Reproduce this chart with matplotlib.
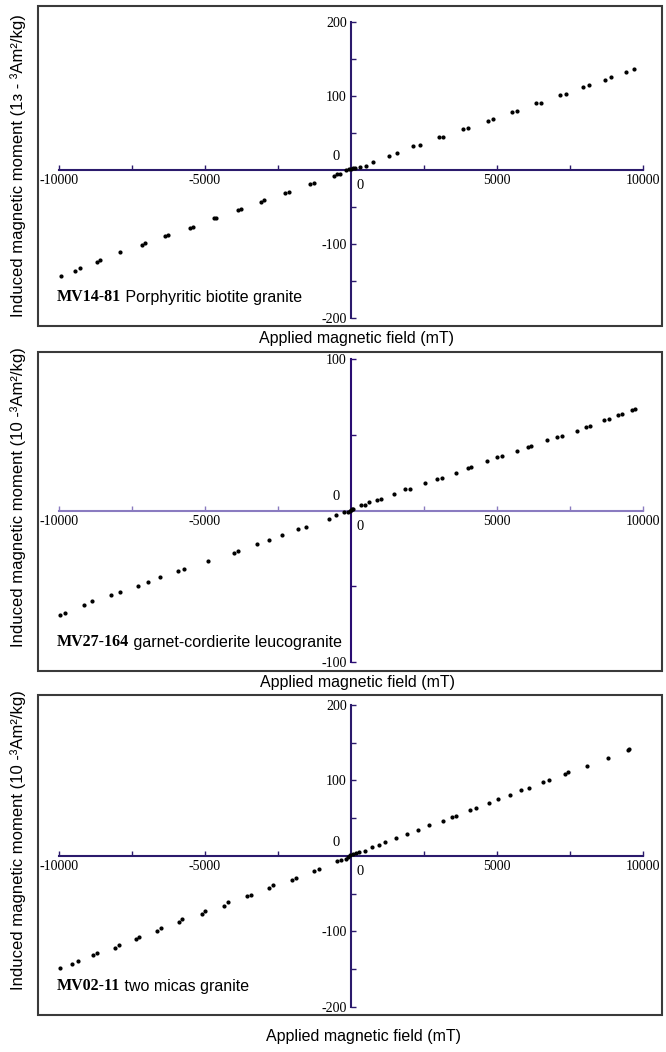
import matplotlib
matplotlib.use("Agg")
import matplotlib.pyplot as plt
from matplotlib.patches import Rectangle

# ---------------- data ----------------
# Panel 1: MV14-81
p1_field = [-9927, -9460, -9271, -8688, -8601, -7915, -7157, -7055, -6356, -6254,
            -5525, -5408, -4708, -4606, -3878, -3776, -3076, -2974, -2245, -2128,
            -1399, -1283, -569, -481, -379, -160, -58, 0, 58, 131,
            321, 525, 743, 1297, 1560, 2128, 2362, 3003, 3163, 3819,
            4023, 4679, 4869, 5525, 5700, 6327, 6516, 7157, 7347, 7959,
            8149, 8703, 8907, 9431, 9679]
p1_moment = [-143, -136, -132, -124, -121, -111, -101, -99, -89, -88,
             -78, -77, -65, -65, -54, -53, -43, -41, -31, -30,
             -19, -18, -8, -6, -5, -0.4, 1, 2, 3, 3,
             4.4, 6, 11, 19, 23, 32, 34, 44, 45, 55,
             57, 66, 69, 78, 80, 90, 91, 102, 103, 112,
             115, 122, 125, 133, 136]

# Panel 2: MV27-164
p2_field = [-9978, -9803, -9148, -8885, -8230, -7910, -7283, -6963, -6526, -5914,
            -5710, -4894, -4020, -3875, -3219, -2811, -2360, -1821, -1530, -757,
            -510, -233, -117, -44, 0, 29, 73, 350, 481, 612,
            874, 1020, 1486, 1850, 2010, 2535, 2957, 3103, 3584, 3991,
            4108, 4661, 4996, 5171, 5681, 6074, 6176, 6701, 7065, 7211,
            7735, 8041, 8201, 8653, 8842, 9133, 9279, 9614, 9716]
p2_moment = [-68.7, -67.4, -62.3, -59.9, -55.9, -53.7, -49.8, -47.1, -44.1, -39.9,
             -38.8, -33.3, -27.8, -26.4, -22.2, -19.4, -16.3, -12.3, -10.8, -5.3,
             -3.1, -0.9, -0.7, 0, 0.4, 0.9, 1.3, 3.5, 3.7, 5.5,
             6.8, 7.5, 11.2, 13.9, 14.5, 18.1, 20.7, 21.6, 24.9, 28,
             28.6, 32.4, 35, 35.7, 39.2, 41.6, 42.7, 46.3, 48.7, 48.9,
             52.6, 55.1, 55.9, 59.7, 60.4, 62.8, 63.9, 66.3, 67]

# Panel 3: MV02-11
p3_field = [-9949, -9555, -9365, -8826, -8709, -8096, -7950, -7367, -7250, -6637,
            -6506, -5893, -5777, -5106, -4989, -4333, -4201, -3559, -3428, -2801,
            -2655, -2013, -1882, -1255, -1080, -467, -350, -175, -88, -29,
            58, 160, 277, 496, 715, 963, 1167, 1546, 1926, 2290,
            2670, 3151, 3472, 3589, 4085, 4274, 4741, 5047, 5456, 5821,
            6113, 6580, 6769, 7338, 7440, 8082, 8797, 9482, 9511]
p3_moment = [-148, -142.5, -138.6, -131.5, -128.8, -121.5, -118, -110.5, -107, -99.4,
             -95.7, -87.3, -83.8, -76.7, -72.7, -65.7, -61.3, -53.3, -51.1, -42.9,
             -38.9, -32.3, -28.7, -19.9, -17.7, -7.3, -6, -3.8, -1.1, 0.7,
             2, 3.3, 4.6, 6.4, 11.3, 14.8, 18.3, 24.1, 29.4, 33.8,
             40.4, 46.6, 51.9, 53.3, 61.2, 63.9, 70.5, 74.9, 80.2, 86.9,
             90.4, 97.5, 100.6, 109, 110.7, 118.6, 129.7, 140.3, 141.6]

sample_ids = ["MV14-81", "MV27-164", "MV02-11"]
rock_names = [" Porphyritic biotite granite", " garnet-cordierite leucogranite",
              " two micas granite"]
y_major = [[-200, -100, 100, 200], [-100, 100], [-200, -100, 100, 200]]
y_minor = [[-150, -50, 50, 150], [-50, 50], [-150, -50, 50, 150]]
y_extent = [200, 100, 200]
x_major = [-10000, -5000, 5000, 10000]
x_minor = [-7500, -2500, 2500, 7500]
ylabels = ["Induced magnetic moment (1\u0437 - \u00b3Am\u00b2/kg)",
           "Induced magnetic moment (10 -\u00b3Am\u00b2/kg)",
           "Induced magnetic moment (10 -\u00b3Am\u00b2/kg)"]
xlabel = "Applied magnetic field (mT)"

fields = [p1_field, p2_field, p3_field]
moments = [p1_moment, p2_moment, p3_moment]

# ---------------- layout ----------------
W, H = 666, 1052
fig = plt.figure(figsize=(W / 100, H / 100), dpi=100)

boxes = [(38, 6, 662, 326), (38, 352, 662, 671), (38, 695, 662, 1015)]  # px: l, t, r, b
ylims = [(-210.8, 221.6), (-105.9, 104.6), (-210.6, 213.0)]
xlim = (-10719, 10651)
ylabel_y = [166, 497, 840]
xlabel_y = [338, 683, 1037]
xlabel_x = [356, 358, 364]
dark = "#2b1a6c"
xaxis_colors = [dark, "#8a7bc0", dark]
yaxis_colors = [dark, "#2a0d72", dark]
serif = "Liberation Serif"
sans = "Liberation Sans"

for i in range(3):
    l, t, r, b = boxes[i]
    ax = fig.add_axes([l / W, 1 - b / H, (r - l) / W, (b - t) / H])
    ax.set_xlim(*xlim)
    ax.set_ylim(*ylims[i])
    ax.plot(fields[i], moments[i], linestyle="none", marker="o", ms=2.0,
            color="black", mec="black", zorder=5)

    for s in ("top", "right"):
        ax.spines[s].set_visible(False)
    ax.spines["bottom"].set_position(("data", 0))
    ax.spines["bottom"].set_bounds(-10000, 10000)
    ax.spines["bottom"].set_color(xaxis_colors[i])
    ax.spines["bottom"].set_linewidth(1.5)
    ax.spines["left"].set_position(("data", 0))
    ax.spines["left"].set_bounds(-y_extent[i], y_extent[i])
    ax.spines["left"].set_color(yaxis_colors[i])
    ax.spines["left"].set_linewidth(1.5)

    ax.set_xticks(x_major)
    ax.set_xticks(x_minor, minor=True)
    ax.set_xticklabels([str(v) for v in x_major])
    ax.set_yticks(y_major[i])
    ax.set_yticks(y_minor[i], minor=True)
    ax.set_yticklabels([str(v) for v in y_major[i]])
    ax.tick_params(axis="x", which="both", direction="in", length=3.5, width=1,
                   color=xaxis_colors[i], pad=3, labelsize=10)
    ax.tick_params(axis="y", which="both", direction="in", length=3.5, width=1,
                   color=yaxis_colors[i], pad=3, labelsize=10)
    for lab in ax.get_xticklabels() + ax.get_yticklabels():
        lab.set_fontfamily(serif)

    # zero labels
    ax.annotate("0", xy=(0, 0), xytext=(-11, 10), textcoords="offset points",
                ha="center", va="center", fontsize=10.5, family=serif)
    ax.annotate("0", xy=(0, 0), xytext=(6.5, -11.5), textcoords="offset points",
                ha="center", va="center", fontsize=10.5, family=serif)

    # frame
    ax.add_patch(Rectangle((0, 0), 1, 1, transform=ax.transAxes, fill=False,
                           ec="#3a3a3a", lw=1.5, clip_on=False, zorder=10))

    # sample annotation
    t1 = ax.text(0.03, 0.065, sample_ids[i], transform=ax.transAxes,
                 fontsize=11.5, fontweight="bold", family=serif,
                 ha="left", va="bottom")
    ax.annotate(rock_names[i], xy=(1, 0), xycoords=t1, ha="left", va="bottom",
                fontsize=11.5, family=sans)

    fig.text(18 / W, 1 - ylabel_y[i] / H, ylabels[i], rotation=90,
             ha="center", va="center", fontsize=12, family=sans)
    fig.text(xlabel_x[i] / W, 1 - xlabel_y[i] / H, xlabel, ha="center", va="center",
             fontsize=11.5, family=sans)

fig.savefig("out.png", dpi=100)
